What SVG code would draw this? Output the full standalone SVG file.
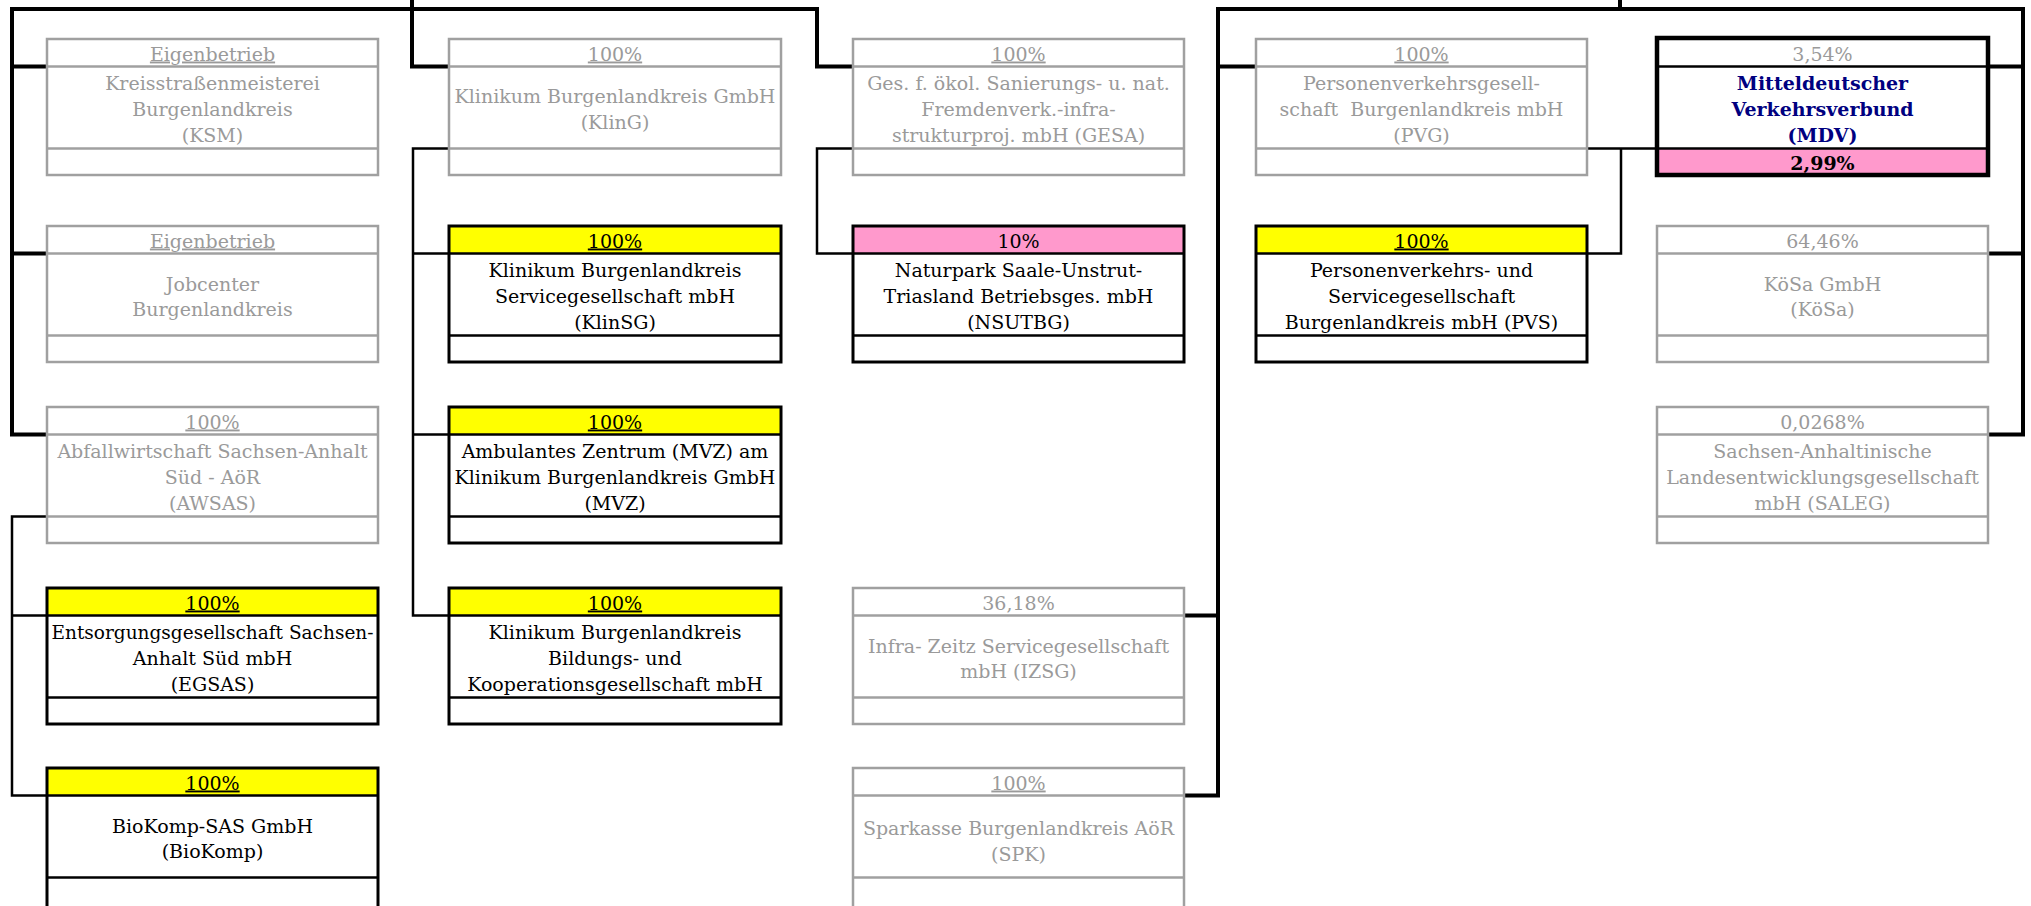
<svg xmlns="http://www.w3.org/2000/svg" width="2031" height="906" viewBox="0 0 2031 906">
<style>
.bg{fill:#fff}
.go{fill:#fff;stroke:#a0a0a0;stroke-width:2.5}
.gl{stroke:#a0a0a0;stroke-width:2.5}
.bo{fill:none;stroke:#000;stroke-width:3}
.bl{stroke:#000;stroke-width:2.5}
.yh{fill:#ffff00}
.ph{fill:#ff99cc}
.wf{fill:#fff}
text{font-family:"DejaVu Serif","Liberation Serif",serif;font-size:19px;text-anchor:middle}
.gt{fill:#9a9a9a}
.bt{fill:#000}
.u{text-decoration:underline}
.nv{fill:#000080;font-weight:bold}
.bd{font-weight:bold}
.thick{fill:none;stroke:#000;stroke-width:4;stroke-linecap:square;stroke-linejoin:miter}
.thin{fill:none;stroke:#000;stroke-width:2.5;stroke-linecap:square;stroke-linejoin:miter}
</style>
<rect class="bg" x="0" y="0" width="2031" height="906"/>

<g id="connectors">
<path class="thick" d="M12 9 H817 M412 0 V66.5 H449 M12 9 V434.5 H47 M12 66.5 H47 M12 253.5 H47 M817 9 V66.5 H853"/>
<path class="thick" d="M1218 9 H2023 M1620 0 V9 M1218 9 V795.5 H1184 M1218 66.5 H1256 M1184 615.5 H1218 M2023 9 V434.5 H1988 M1988 66.5 H2023 M1988 253.5 H2023"/>
<path class="thin" d="M449 148.5 H413 V615.5 H449 M413 253.5 H449 M413 434.5 H449"/>
<path class="thin" d="M853 148.5 H817 V253.5 H853"/>
<path class="thin" d="M1587 148.5 H1657 M1621 148.5 V253.5 H1587"/>
<path class="thin" d="M47 516.5 H12 V795.5 H47 M12 615.5 H47"/>
</g>

<!-- Column 1 -->
<g id="ksm">
<rect class="go" x="47" y="39" width="331" height="136"/>
<line class="gl" x1="47" y1="66.5" x2="378" y2="66.5"/>
<line class="gl" x1="47" y1="148.5" x2="378" y2="148.5"/>
<text class="gt u" x="212.5" y="60.5">Eigenbetrieb</text>
<text class="gt" x="212.5" y="90">Kreisstraßenmeisterei</text>
<text class="gt" x="212.5" y="116">Burgenlandkreis</text>
<text class="gt" x="212.5" y="142">(KSM)</text>
</g>
<g id="jobcenter">
<rect class="go" x="47" y="226" width="331" height="136"/>
<line class="gl" x1="47" y1="253.5" x2="378" y2="253.5"/>
<line class="gl" x1="47" y1="335.5" x2="378" y2="335.5"/>
<text class="gt u" x="212.5" y="247.5">Eigenbetrieb</text>
<text class="gt" x="212.5" y="290.5">Jobcenter</text>
<text class="gt" x="212.5" y="316">Burgenlandkreis</text>
</g>
<g id="awsas">
<rect class="go" x="47" y="407" width="331" height="136"/>
<line class="gl" x1="47" y1="434.5" x2="378" y2="434.5"/>
<line class="gl" x1="47" y1="516.5" x2="378" y2="516.5"/>
<text class="gt u" x="212.5" y="428.5">100%</text>
<text class="gt" x="212.5" y="458">Abfallwirtschaft Sachsen-Anhalt</text>
<text class="gt" x="212.5" y="484">Süd - AöR</text>
<text class="gt" x="212.5" y="510">(AWSAS)</text>
</g>
<g id="egsas">
<rect class="yh" x="47" y="588" width="331" height="27.5"/>
<rect class="wf" x="47" y="615.5" width="331" height="108.5"/>
<rect class="bo" x="47" y="588" width="331" height="136"/>
<line class="bl" x1="47" y1="615.5" x2="378" y2="615.5"/>
<line class="bl" x1="47" y1="697.5" x2="378" y2="697.5"/>
<text class="bt u" x="212.5" y="609.5">100%</text>
<text class="bt" x="212.5" y="639" textLength="322" lengthAdjust="spacingAndGlyphs">Entsorgungsgesellschaft Sachsen-</text>
<text class="bt" x="212.5" y="665">Anhalt Süd mbH</text>
<text class="bt" x="212.5" y="691">(EGSAS)</text>
</g>
<g id="biokomp">
<rect class="yh" x="47" y="768" width="331" height="27.5"/>
<rect class="wf" x="47" y="795.5" width="331" height="120"/>
<rect class="bo" x="47" y="768" width="331" height="146"/>
<line class="bl" x1="47" y1="795.5" x2="378" y2="795.5"/>
<line class="bl" x1="47" y1="877.5" x2="378" y2="877.5"/>
<text class="bt u" x="212.5" y="789.5">100%</text>
<text class="bt" x="212.5" y="832.5">BioKomp-SAS GmbH</text>
<text class="bt" x="212.5" y="858">(BioKomp)</text>
</g>

<!-- Column 2 -->
<g id="kling">
<rect class="go" x="449" y="39" width="332" height="136"/>
<line class="gl" x1="449" y1="66.5" x2="781" y2="66.5"/>
<line class="gl" x1="449" y1="148.5" x2="781" y2="148.5"/>
<text class="gt u" x="615" y="60.5">100%</text>
<text class="gt" x="615" y="103">Klinikum Burgenlandkreis GmbH</text>
<text class="gt" x="615" y="129">(KlinG)</text>
</g>
<g id="klinsg">
<rect class="yh" x="449" y="226" width="332" height="27.5"/>
<rect class="wf" x="449" y="253.5" width="332" height="108.5"/>
<rect class="bo" x="449" y="226" width="332" height="136"/>
<line class="bl" x1="449" y1="253.5" x2="781" y2="253.5"/>
<line class="bl" x1="449" y1="335.5" x2="781" y2="335.5"/>
<text class="bt u" x="615" y="247.5">100%</text>
<text class="bt" x="615" y="277">Klinikum Burgenlandkreis</text>
<text class="bt" x="615" y="303">Servicegesellschaft mbH</text>
<text class="bt" x="615" y="329">(KlinSG)</text>
</g>
<g id="mvz">
<rect class="yh" x="449" y="407" width="332" height="27.5"/>
<rect class="wf" x="449" y="434.5" width="332" height="108.5"/>
<rect class="bo" x="449" y="407" width="332" height="136"/>
<line class="bl" x1="449" y1="434.5" x2="781" y2="434.5"/>
<line class="bl" x1="449" y1="516.5" x2="781" y2="516.5"/>
<text class="bt u" x="615" y="428.5">100%</text>
<text class="bt" x="615" y="458">Ambulantes Zentrum (MVZ) am</text>
<text class="bt" x="615" y="484">Klinikum Burgenlandkreis GmbH</text>
<text class="bt" x="615" y="510">(MVZ)</text>
</g>
<g id="klinbk">
<rect class="yh" x="449" y="588" width="332" height="27.5"/>
<rect class="wf" x="449" y="615.5" width="332" height="108.5"/>
<rect class="bo" x="449" y="588" width="332" height="136"/>
<line class="bl" x1="449" y1="615.5" x2="781" y2="615.5"/>
<line class="bl" x1="449" y1="697.5" x2="781" y2="697.5"/>
<text class="bt u" x="615" y="609.5">100%</text>
<text class="bt" x="615" y="639">Klinikum Burgenlandkreis</text>
<text class="bt" x="615" y="665">Bildungs- und</text>
<text class="bt" x="615" y="691">Kooperationsgesellschaft mbH</text>
</g>

<!-- Column 3 -->
<g id="gesa">
<rect class="go" x="853" y="39" width="331" height="136"/>
<line class="gl" x1="853" y1="66.5" x2="1184" y2="66.5"/>
<line class="gl" x1="853" y1="148.5" x2="1184" y2="148.5"/>
<text class="gt u" x="1018.5" y="60.5">100%</text>
<text class="gt" x="1018.5" y="90">Ges. f. ökol. Sanierungs- u. nat.</text>
<text class="gt" x="1018.5" y="116">Fremdenverk.-infra-</text>
<text class="gt" x="1018.5" y="142">strukturproj. mbH (GESA)</text>
</g>
<g id="nsutbg">
<rect class="ph" x="853" y="226" width="331" height="27.5"/>
<rect class="wf" x="853" y="253.5" width="331" height="108.5"/>
<rect class="bo" x="853" y="226" width="331" height="136"/>
<line class="bl" x1="853" y1="253.5" x2="1184" y2="253.5"/>
<line class="bl" x1="853" y1="335.5" x2="1184" y2="335.5"/>
<text class="bt" x="1018.5" y="247.5">10%</text>
<text class="bt" x="1018.5" y="277">Naturpark Saale-Unstrut-</text>
<text class="bt" x="1018.5" y="303">Triasland Betriebsges. mbH</text>
<text class="bt" x="1018.5" y="329">(NSUTBG)</text>
</g>
<g id="izsg">
<rect class="go" x="853" y="588" width="331" height="136"/>
<line class="gl" x1="853" y1="615.5" x2="1184" y2="615.5"/>
<line class="gl" x1="853" y1="697.5" x2="1184" y2="697.5"/>
<text class="gt" x="1018.5" y="609.5">36,18%</text>
<text class="gt" x="1018.5" y="652.5">Infra- Zeitz Servicegesellschaft</text>
<text class="gt" x="1018.5" y="678">mbH (IZSG)</text>
</g>
<g id="spk">
<rect class="go" x="853" y="768" width="331" height="146"/>
<line class="gl" x1="853" y1="795.5" x2="1184" y2="795.5"/>
<line class="gl" x1="853" y1="877.5" x2="1184" y2="877.5"/>
<text class="gt u" x="1018.5" y="789.5">100%</text>
<text class="gt" x="1018.5" y="835">Sparkasse Burgenlandkreis AöR</text>
<text class="gt" x="1018.5" y="860.5">(SPK)</text>
</g>

<!-- Column 4 -->
<g id="pvg">
<rect class="go" x="1256" y="39" width="331" height="136"/>
<line class="gl" x1="1256" y1="66.5" x2="1587" y2="66.5"/>
<line class="gl" x1="1256" y1="148.5" x2="1587" y2="148.5"/>
<text class="gt u" x="1421.5" y="60.5">100%</text>
<text class="gt" x="1421.5" y="90">Personenverkehrsgesell-</text>
<text class="gt" x="1421.5" y="116" xml:space="preserve">schaft  Burgenlandkreis mbH</text>
<text class="gt" x="1421.5" y="142">(PVG)</text>
</g>
<g id="pvs">
<rect class="yh" x="1256" y="226" width="331" height="27.5"/>
<rect class="wf" x="1256" y="253.5" width="331" height="108.5"/>
<rect class="bo" x="1256" y="226" width="331" height="136"/>
<line class="bl" x1="1256" y1="253.5" x2="1587" y2="253.5"/>
<line class="bl" x1="1256" y1="335.5" x2="1587" y2="335.5"/>
<text class="bt u" x="1421.5" y="247.5">100%</text>
<text class="bt" x="1421.5" y="277">Personenverkehrs- und</text>
<text class="bt" x="1421.5" y="303">Servicegesellschaft</text>
<text class="bt" x="1421.5" y="329">Burgenlandkreis mbH (PVS)</text>
</g>

<!-- Column 5 -->
<g id="mdv">
<rect class="wf" x="1657" y="38" width="331" height="137"/>
<rect class="ph" x="1657" y="148.5" width="331" height="26.5"/>
<rect fill="none" stroke="#000" stroke-width="4.5" x="1657" y="38" width="331" height="137"/>
<line class="bl" x1="1657" y1="66.5" x2="1988" y2="66.5"/>
<line class="bl" x1="1657" y1="148.5" x2="1988" y2="148.5"/>
<text class="gt" x="1822.5" y="60.5">3,54%</text>
<text class="nv" x="1822.5" y="90">Mitteldeutscher</text>
<text class="nv" x="1822.5" y="116">Verkehrsverbund</text>
<text class="nv" x="1822.5" y="142">(MDV)</text>
<text class="bt bd" x="1822.5" y="169.5">2,99%</text>
</g>
<g id="koesa">
<rect class="go" x="1657" y="226" width="331" height="136"/>
<line class="gl" x1="1657" y1="253.5" x2="1988" y2="253.5"/>
<line class="gl" x1="1657" y1="335.5" x2="1988" y2="335.5"/>
<text class="gt" x="1822.5" y="247.5">64,46%</text>
<text class="gt" x="1822.5" y="290.5">KöSa GmbH</text>
<text class="gt" x="1822.5" y="316">(KöSa)</text>
</g>
<g id="saleg">
<rect class="go" x="1657" y="407" width="331" height="136"/>
<line class="gl" x1="1657" y1="434.5" x2="1988" y2="434.5"/>
<line class="gl" x1="1657" y1="516.5" x2="1988" y2="516.5"/>
<text class="gt" x="1822.5" y="428.5">0,0268%</text>
<text class="gt" x="1822.5" y="458">Sachsen-Anhaltinische</text>
<text class="gt" x="1822.5" y="484">Landesentwicklungsgesellschaft</text>
<text class="gt" x="1822.5" y="510">mbH (SALEG)</text>
</g>
</svg>
